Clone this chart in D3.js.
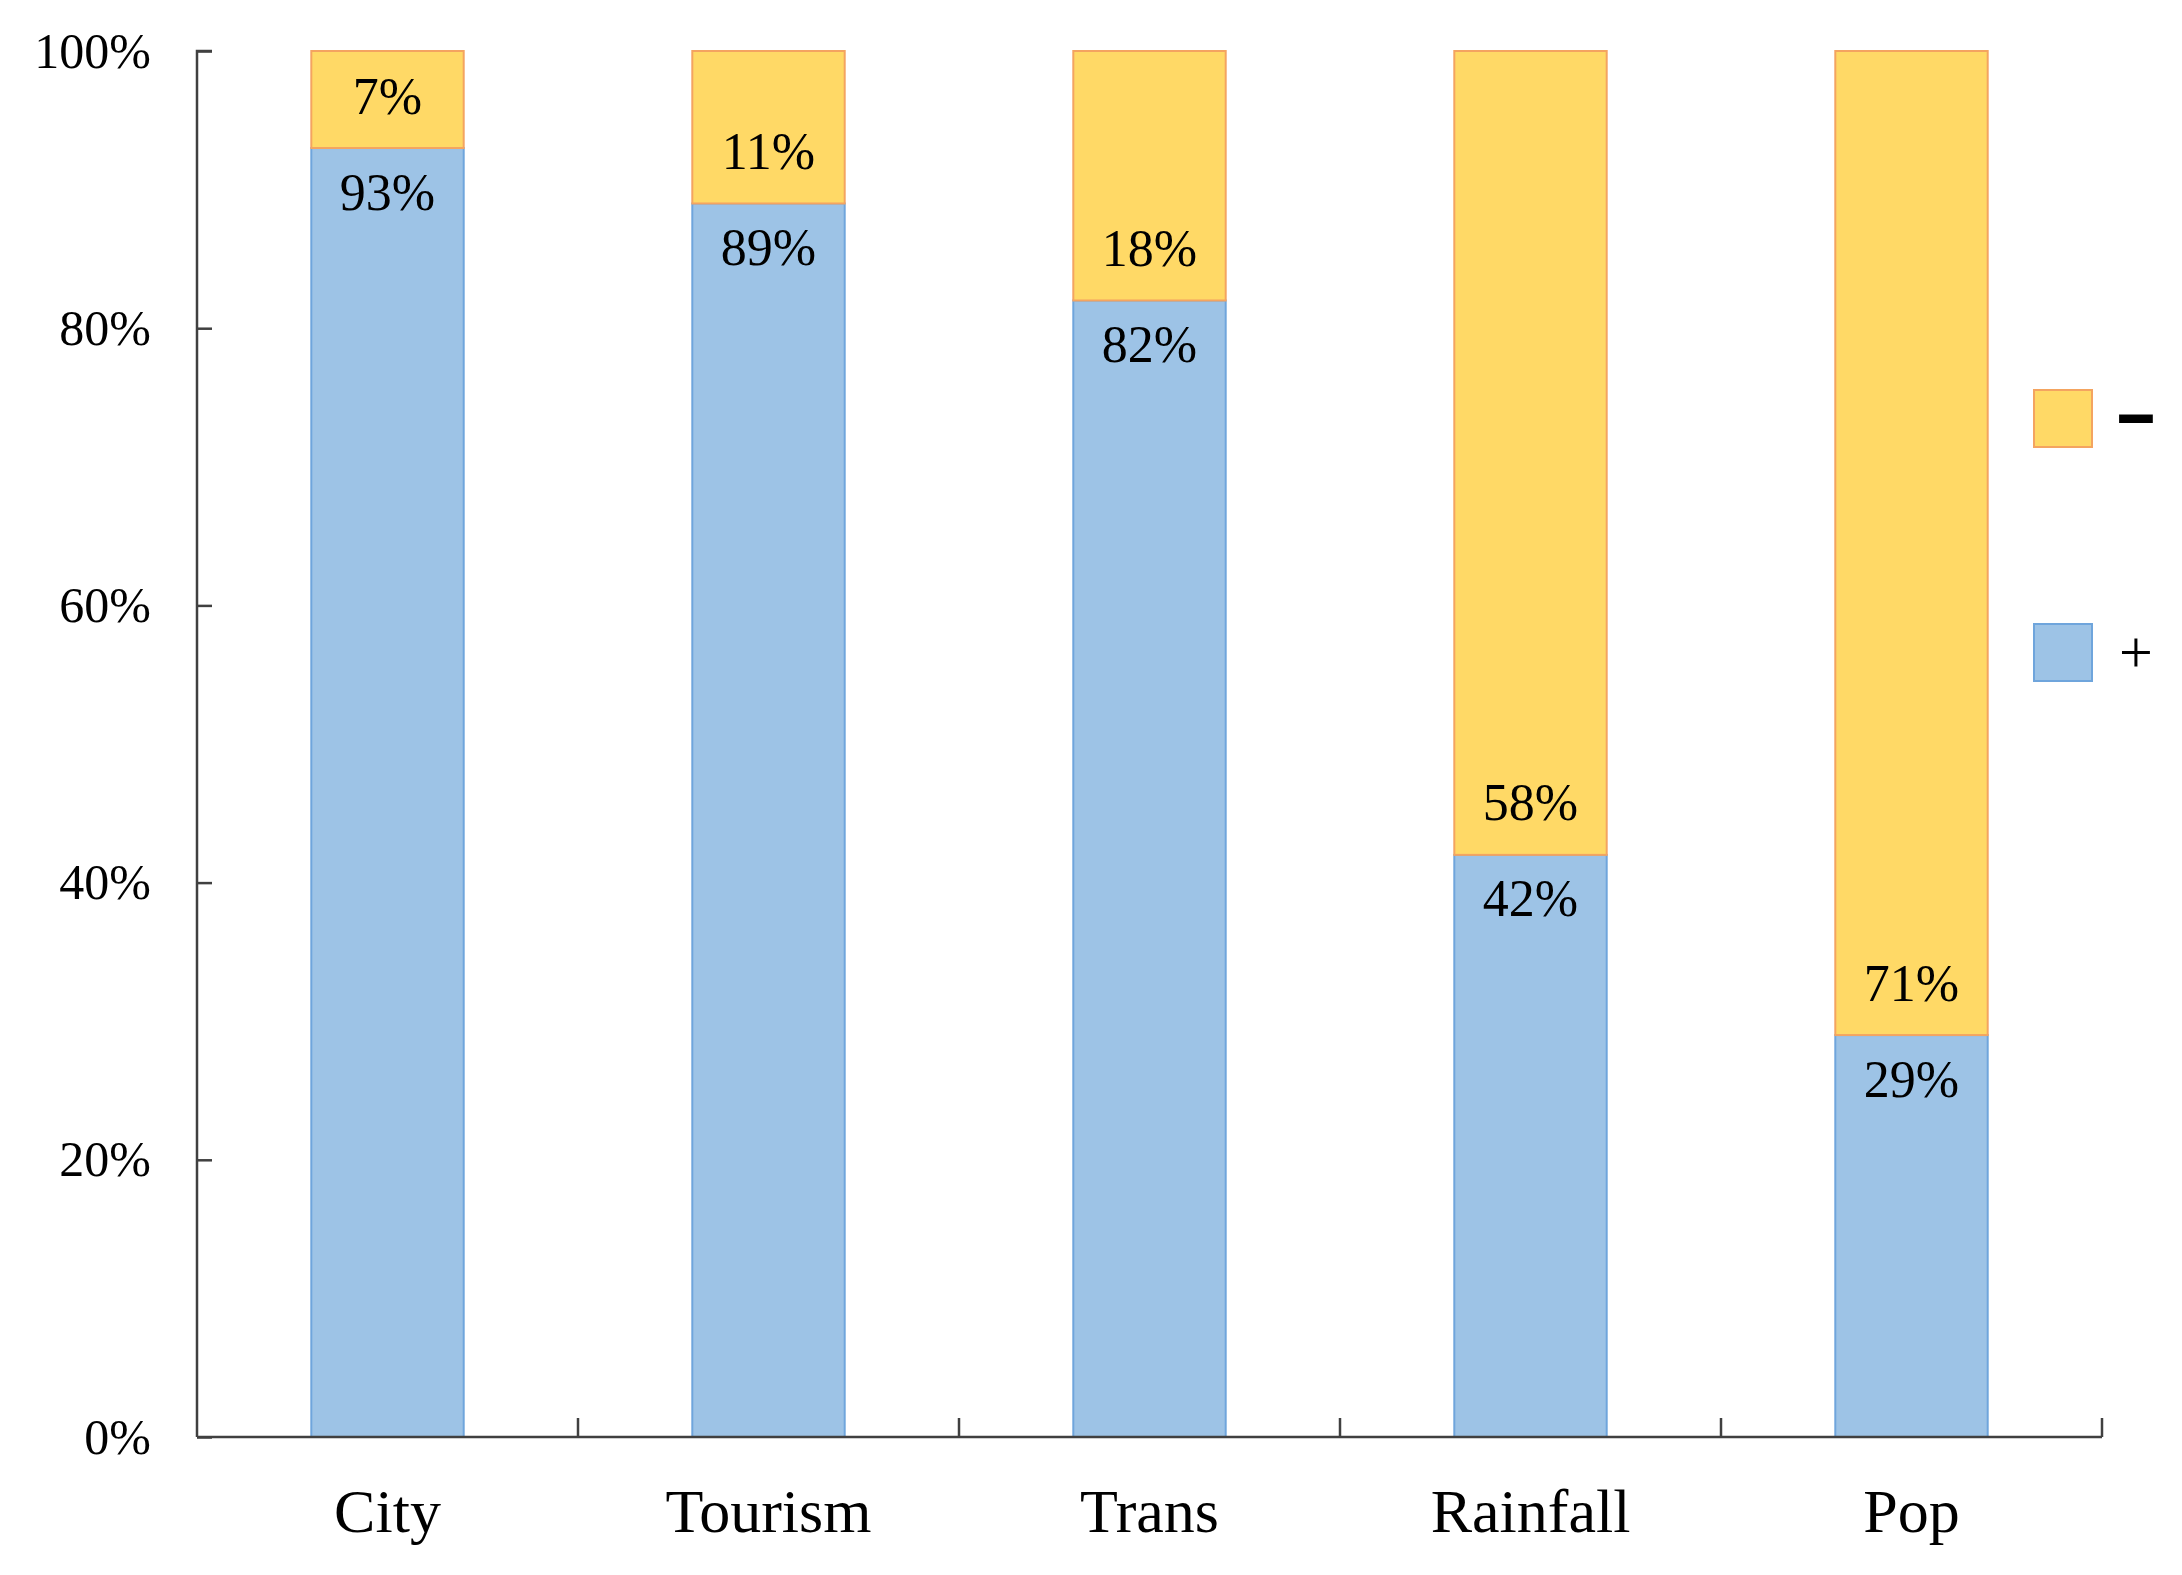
<!DOCTYPE html>
<html lang="en">
<head>
<meta charset="UTF-8">
<title>Stacked share chart</title>
<style>
  body, html { margin: 0; padding: 0; background: #fff; overflow: hidden; }
  text { font-family: "Liberation Serif", "Times New Roman", serif; fill: #000; }
</style>
</head>
<body>
<div id="chart"></div>
<script src="https://d3js.org/d3.v7.min.js"></script>
<script>
// data
const categories = ["City", "Tourism", "Trans", "Rainfall", "Pop"];
const positive = [93, 89, 82, 42, 29];   // "+" share (blue, bottom)
const negative = [7, 11, 18, 58, 71];    // "-" share (yellow, top)
const yTicks = [0, 20, 40, 60, 80, 100];

const W = 2182, H = 1575;
const margin = { top: 51, right: 80, bottom: 138, left: 197 };

const svg = d3.select("#chart").append("svg")
  .attr("width", W)
  .attr("height", H);

const x = d3.scaleBand()
  .domain(categories)
  .range([margin.left, W - margin.right]);

const y = d3.scaleLinear()
  .domain([0, 100])
  .range([H - margin.bottom, margin.top]);

const barW = x.bandwidth() * 0.4;

// stacked rows
const rows = categories.map((c, i) => ({ cat: c, pos: positive[i], neg: negative[i] }));

const g = svg.append("g");

// blue (+) part
g.selectAll(".pos")
  .data(rows)
  .enter().append("rect")
  .attr("class", "pos")
  .attr("x", d => x(d.cat) + (x.bandwidth() - barW) / 2)
  .attr("y", d => y(d.pos))
  .attr("width", barW)
  .attr("height", d => y(0) - y(d.pos))
  .attr("fill", "#9DC3E6")
  .attr("stroke", "#6FA5DC")
  .attr("stroke-width", 2);

// yellow (-) part on top
g.selectAll(".neg")
  .data(rows)
  .enter().append("rect")
  .attr("class", "neg")
  .attr("x", d => x(d.cat) + (x.bandwidth() - barW) / 2)
  .attr("y", d => y(d.pos + d.neg))
  .attr("width", barW)
  .attr("height", d => y(d.pos) - y(d.pos + d.neg))
  .attr("fill", "#FFD966")
  .attr("stroke", "#F4A460")
  .attr("stroke-width", 2);

// value labels
g.selectAll(".negLabel")
  .data(rows)
  .enter().append("text")
  .attr("x", d => x(d.cat) + x.bandwidth() / 2)
  .attr("y", d => y(d.pos) - 52)
  .attr("text-anchor", "middle")
  .attr("dominant-baseline", "central")
  .attr("font-size", 52)
  .text(d => d.neg + "%");

g.selectAll(".posLabel")
  .data(rows)
  .enter().append("text")
  .attr("x", d => x(d.cat) + x.bandwidth() / 2)
  .attr("y", d => y(d.pos) + 44)
  .attr("text-anchor", "middle")
  .attr("dominant-baseline", "central")
  .attr("font-size", 52)
  .text(d => d.pos + "%");

// y axis, ticks pointing inward
const yAxis = svg.append("g")
  .attr("transform", `translate(${margin.left},0)`)
  .call(d3.axisRight(y).tickValues(yTicks).tickSize(15).tickFormat(d => d + "%"));
yAxis.select(".domain").attr("d", `M15,${y(100)}H0V${y(0)}`);
yAxis.selectAll(".domain, .tick line").attr("stroke", "#404040").attr("stroke-width", 2.5);
yAxis.selectAll(".tick text")
  .attr("x", -46)
  .attr("text-anchor", "end")
  .attr("font-size", 50)
  .attr("font-family", "Liberation Serif")
  .attr("fill", "#000");

// x axis with ticks between categories, pointing up
const xAxis = svg.append("g")
  .attr("transform", `translate(0,${y(0)})`);
xAxis.append("line")
  .attr("x1", margin.left).attr("x2", x.range()[1])
  .attr("stroke", "#404040").attr("stroke-width", 2.5);
xAxis.selectAll(".sep")
  .data(categories)
  .enter().append("line")
  .attr("x1", d => x(d) + x.bandwidth())
  .attr("x2", d => x(d) + x.bandwidth())
  .attr("y1", 0).attr("y2", -19)
  .attr("stroke", "#404040").attr("stroke-width", 2.5);
xAxis.selectAll(".cat")
  .data(categories)
  .enter().append("text")
  .attr("x", d => x(d) + x.bandwidth() / 2)
  .attr("y", 95)
  .attr("text-anchor", "middle")
  .attr("font-size", 62)
  .text(d => d);

// legend
const legend = [
  { key: "\u2212", fill: "#FFD966", stroke: "#F4A460", y: 418 },
  { key: "+", fill: "#9DC3E6", stroke: "#6FA5DC", y: 652 }
];
const lg = svg.selectAll(".legend")
  .data(legend)
  .enter().append("g")
  .attr("transform", d => `translate(2034,${d.y})`);
lg.append("rect")
  .attr("x", 0).attr("y", -28)
  .attr("width", 58).attr("height", 57)
  .attr("fill", d => d.fill)
  .attr("stroke", d => d.stroke)
  .attr("stroke-width", 2);
lg.append("text")
  .attr("x", 102)
  .attr("y", 0)
  .attr("dominant-baseline", "central")
  .attr("text-anchor", "middle")
  .attr("font-family", "Liberation Sans")
  .attr("font-weight", d => d.key === "+" ? "normal" : "bold")
  .attr("font-size", d => d.key === "+" ? 60 : 64)
  .attr("stroke", d => d.key === "+" ? "none" : "#000")
  .attr("stroke-width", 4)
  .text(d => d.key);
</script>
</body>
</html>
